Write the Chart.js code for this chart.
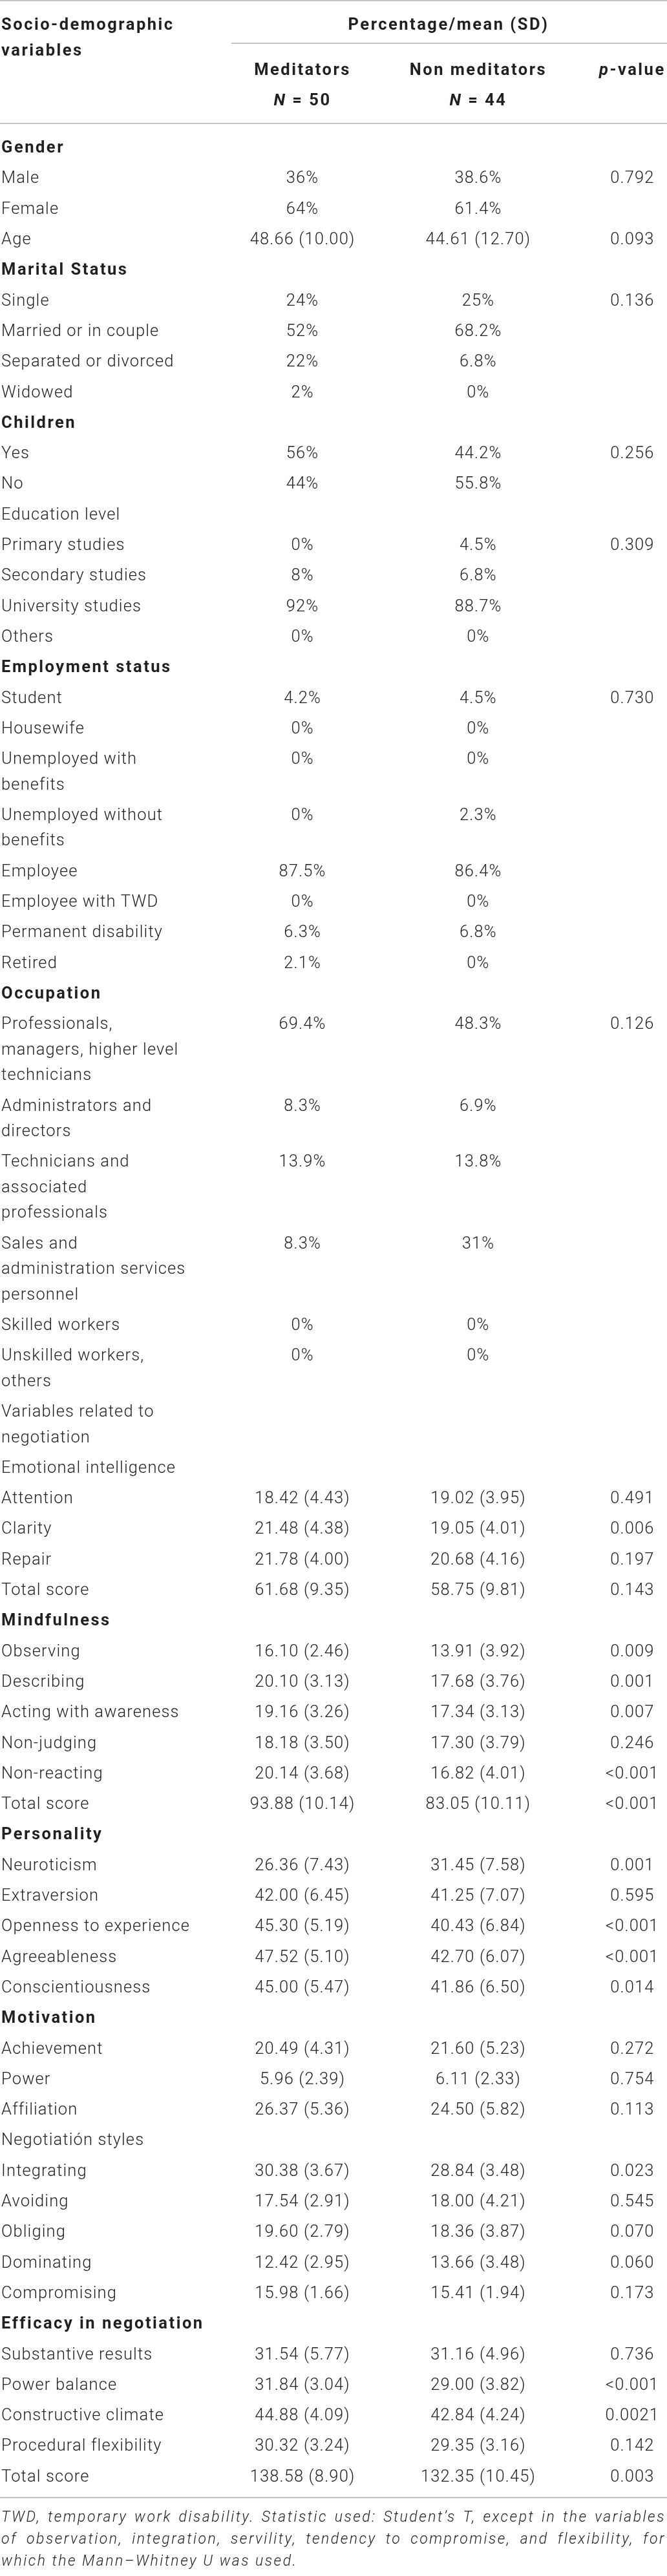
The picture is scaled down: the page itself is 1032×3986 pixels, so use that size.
<!DOCTYPE html>
<html>
<head>
<meta charset="utf-8">
<script src="https://cdn.jsdelivr.net/npm/chart.js@4.4.1/dist/chart.umd.min.js"></script>
<style>
  html, body { margin: 0; padding: 0; background: #fff; }
  canvas { display: block; }
</style>
</head>
<body>
<canvas id="tabela" width="1032" height="3986"></canvas>
<script>
// dados da tabela (uma entrada por linha; arrays = rótulo em várias linhas)
const variables = [
  "Gender", "Male", "Female", "Age",
  "Marital Status", "Single", "Married or in couple", "Separated or divorced", "Widowed",
  "Children", "Yes", "No",
  "Education level", "Primary studies", "Secondary studies", "University studies", "Others",
  "Employment status", "Student", "Housewife", ["Unemployed with", "benefits"], ["Unemployed without", "benefits"],
  "Employee", "Employee with TWD", "Permanent disability", "Retired",
  "Occupation", ["Professionals,", "managers, higher level", "technicians"], ["Administrators and", "directors"],
  ["Technicians and", "associated", "professionals"], ["Sales and", "administration services", "personnel"],
  "Skilled workers", ["Unskilled workers,", "others"],
  ["Variables related to", "negotiation"], "Emotional intelligence", "Attention", "Clarity", "Repair", "Total score",
  "Mindfulness", "Observing", "Describing", "Acting with awareness", "Non-judging", "Non-reacting", "Total score",
  "Personality", "Neuroticism", "Extraversion", "Openness to experience", "Agreeableness", "Conscientiousness",
  "Motivation", "Achievement", "Power", "Affiliation",
  "Negotiatión styles", "Integrating", "Avoiding", "Obliging", "Dominating", "Compromising",
  "Efficacy in negotiation", "Substantive results", "Power balance", "Constructive climate", "Procedural flexibility", "Total score"
];

const meditators = [
  "", "36%", "64%", "48.66 (10.00)",
  "", "24%", "52%", "22%", "2%",
  "", "56%", "44%",
  "", "0%", "8%", "92%", "0%",
  "", "4.2%", "0%", "0%", "0%", "87.5%", "0%", "6.3%", "2.1%",
  "", "69.4%", "8.3%", "13.9%", "8.3%", "0%", "0%",
  "", "", "18.42 (4.43)", "21.48 (4.38)", "21.78 (4.00)", "61.68 (9.35)",
  "", "16.10 (2.46)", "20.10 (3.13)", "19.16 (3.26)", "18.18 (3.50)", "20.14 (3.68)", "93.88 (10.14)",
  "", "26.36 (7.43)", "42.00 (6.45)", "45.30 (5.19)", "47.52 (5.10)", "45.00 (5.47)",
  "", "20.49 (4.31)", "5.96 (2.39)", "26.37 (5.36)",
  "", "30.38 (3.67)", "17.54 (2.91)", "19.60 (2.79)", "12.42 (2.95)", "15.98 (1.66)",
  "", "31.54 (5.77)", "31.84 (3.04)", "44.88 (4.09)", "30.32 (3.24)", "138.58 (8.90)"
];

const nonMeditators = [
  "", "38.6%", "61.4%", "44.61 (12.70)",
  "", "25%", "68.2%", "6.8%", "0%",
  "", "44.2%", "55.8%",
  "", "4.5%", "6.8%", "88.7%", "0%",
  "", "4.5%", "0%", "0%", "2.3%", "86.4%", "0%", "6.8%", "0%",
  "", "48.3%", "6.9%", "13.8%", "31%", "0%", "0%",
  "", "", "19.02 (3.95)", "19.05 (4.01)", "20.68 (4.16)", "58.75 (9.81)",
  "", "13.91 (3.92)", "17.68 (3.76)", "17.34 (3.13)", "17.30 (3.79)", "16.82 (4.01)", "83.05 (10.11)",
  "", "31.45 (7.58)", "41.25 (7.07)", "40.43 (6.84)", "42.70 (6.07)", "41.86 (6.50)",
  "", "21.60 (5.23)", "6.11 (2.33)", "24.50 (5.82)",
  "", "28.84 (3.48)", "18.00 (4.21)", "18.36 (3.87)", "13.66 (3.48)", "15.41 (1.94)",
  "", "31.16 (4.96)", "29.00 (3.82)", "42.84 (4.24)", "29.35 (3.16)", "132.35 (10.45)"
];

const pValues = [
  "", "0.792", "", "0.093",
  "", "0.136", "", "", "",
  "", "0.256", "",
  "", "0.309", "", "", "",
  "", "0.730", "", "", "", "", "", "", "",
  "", "0.126", "", "", "", "", "",
  "", "", "0.491", "0.006", "0.197", "0.143",
  "", "0.009", "0.001", "0.007", "0.246", "<0.001", "<0.001",
  "", "0.001", "0.595", "<0.001", "<0.001", "0.014",
  "", "0.272", "0.754", "0.113",
  "", "0.023", "0.545", "0.070", "0.060", "0.173",
  "", "0.736", "<0.001", "0.0021", "0.142", "0.003"
];

const headingRows = ["Gender", "Marital Status", "Children", "Employment status", "Occupation",
  "Mindfulness", "Personality", "Motivation", "Efficacy in negotiation"];

const stubTitle = ["Socio-demographic", "variables"];
const spanTitle = "Percentage/mean (SD)";
const seriesNames = ["Meditators", "Non meditators"];
const sampleSizes = [50, 44];

const footnote = [
  "TWD, temporary work disability. Statistic used: Student’s T, except in the variables",
  "of observation, integration, servility, tendency to compromise, and flexibility, for",
  "which the Mann–Whitney U was used."
];

// layout
const W = 1032, H = 3986;
const ROW_PX = 47.3;              // passo de uma linha simples
const LINE = 39.5 / ROW_PX;       // linha extra dentro da mesma célula
const FIRST_ROW = 227 / ROW_PX;
const LABEL_X = 0.2;              // x em % da largura
const COL_X = [45.35, 71.7, 94.8];
const SPAN_FROM = 34.7;
const SPAN_TITLE_X = 67.25;
const HEAD = { top: 0.02, title: 0.78, spanRule: 1.416, group: 2.262, n: 3.256, rule: 4.038 };

const TEXT = "#231f20";
const RULE = "#b4b4b4";
const FAMILY = 'Roboto, "Liberation Sans", Arial, sans-serif';
const styles = {
  body: { font: `300 25.5px ${FAMILY}`, size: 25.5, sample: "University studies", target: 217 },
  bold: { font: `700 25.5px ${FAMILY}`, size: 25.5, sample: "Employment status", target: 267 },
  boldItalic: { font: `italic 700 25.5px ${FAMILY}`, size: 25.5 },
  note: { font: `italic 300 23px ${FAMILY}`, size: 23, sample: "which the Mann–Whitney U was used.", target: 476 }
};

// posição vertical de cada linha (em unidades de linha)
const rowPos = [];
let pos = FIRST_ROW;
variables.forEach(v => {
  rowPos.push(pos);
  const n = Array.isArray(v) ? v.length : 1;
  pos += 1 + LINE * (n - 1);
});
const lastRow = rowPos[rowPos.length - 1];
const bottomRule = lastRow + 0.72;

function useStyle(c, st) {
  c.font = st.font;
  c.letterSpacing = (st.spacing || 0) + "px";
}

function calibrate(c) {
  ["body", "bold", "note"].forEach(k => {
    const st = styles[k];
    st.spacing = 0;
    useStyle(c, st);
    const w = c.measureText(st.sample).width;
    st.spacing = Math.max(-1, Math.min(2.5, (st.target - w) / st.sample.length));
  });
  styles.boldItalic.spacing = styles.bold.spacing;
}

function text(c, str, x, y, st, align) {
  useStyle(c, st);
  c.fillStyle = TEXT;
  c.textAlign = align || "left";
  c.textBaseline = "alphabetic";
  c.fillText(str, x, y + st.size * 0.36);
}

// texto com partes em estilos diferentes, centrado em x
function runs(c, parts, x, y) {
  let total = 0;
  parts.forEach(p => { useStyle(c, p[1]); total += c.measureText(p[0]).width; });
  let cx = x - total / 2;
  parts.forEach(p => {
    text(c, p[0], cx, y, p[1], "left");
    useStyle(c, p[1]);
    cx += c.measureText(p[0]).width;
  });
}

function rule(c, x0, x1, y) {
  c.save();
  c.strokeStyle = RULE;
  c.lineWidth = 1.6;
  c.beginPath();
  c.moveTo(x0, y);
  c.lineTo(x1, y);
  c.stroke();
  c.restore();
}

const tablePlugin = {
  id: "tabela",
  beforeDraw(chart) {
    calibrate(chart.ctx);
  },
  afterDatasetsDraw(chart) {
    const c = chart.ctx;
    const xs = chart.scales.x, ys = chart.scales.y;
    const px = v => xs.getPixelForValue(v);
    const py = v => ys.getPixelForValue(v);
    const linePx = py(LINE) - py(0);

    // linhas horizontais
    rule(c, px(0), px(100), py(HEAD.top));
    rule(c, px(SPAN_FROM), px(100), py(HEAD.spanRule));
    rule(c, px(0), px(100), py(HEAD.rule));
    rule(c, px(0), px(100), py(bottomRule));

    // cabeçalho
    stubTitle.forEach((s, i) => text(c, s, px(LABEL_X), py(HEAD.title) + i * linePx, styles.bold));
    text(c, spanTitle, px(SPAN_TITLE_X), py(HEAD.title), styles.bold, "center");
    seriesNames.forEach((s, i) => {
      text(c, s, px(COL_X[i]), py(HEAD.group), styles.bold, "center");
      runs(c, [["N", styles.boldItalic], [" = " + sampleSizes[i], styles.bold]], px(COL_X[i]), py(HEAD.n));
    });
    runs(c, [["p", styles.boldItalic], ["-value", styles.bold]], px(COL_X[2]), py(HEAD.group));

    // células, a partir dos pontos do gráfico
    chart.data.datasets.forEach((ds, d) => {
      const meta = chart.getDatasetMeta(d);
      meta.data.forEach((pt, i) => {
        const raw = ds.data[i];
        const lines = Array.isArray(raw.text) ? raw.text : [raw.text];
        const st = raw.heading ? styles.bold : styles.body;
        lines.forEach((l, k) => text(c, l, pt.x, pt.y + k * linePx, st, d === 0 ? "left" : "center"));
      });
    });

    // nota de rodapé (justificada menos a última linha)
    const left = px(LABEL_X), right = px(99.8);
    footnote.forEach((l, i) => {
      const y = py(bottomRule + 0.62 + i * 0.715);
      if (i === footnote.length - 1) { text(c, l, left, y, styles.note); return; }
      const words = l.split(" ");
      useStyle(c, styles.note);
      const widths = words.map(w => c.measureText(w).width);
      const gap = (right - left - widths.reduce((a, b) => a + b, 0)) / (words.length - 1);
      let x = left;
      words.forEach((w, k) => { text(c, w, x, y, styles.note); x += widths[k] + gap; });
    });
    c.letterSpacing = "0px";
  }
};

function column(values, k) {
  return values
    .map((v, i) => ({ x: COL_X[k], y: rowPos[i], text: v }))
    .filter(p => p.text !== "");
}

const ctx = document.getElementById("tabela").getContext("2d");
new Chart(ctx, {
  type: "scatter",
  data: {
    datasets: [
      { label: "Variables", data: variables.map((v, i) => ({ x: LABEL_X, y: rowPos[i], text: v, heading: headingRows.includes(v) })) },
      { label: seriesNames[0], data: column(meditators, 0) },
      { label: seriesNames[1], data: column(nonMeditators, 1) },
      { label: "p-value", data: column(pValues, 2) }
    ]
  },
  options: {
    responsive: false,
    animation: false,
    devicePixelRatio: 1,
    layout: { padding: 0 },
    elements: { point: { radius: 0, hoverRadius: 0 } },
    scales: {
      x: { type: "linear", display: false, min: 0, max: 100 },
      y: { type: "linear", display: false, reverse: true, min: 0, max: H / ROW_PX }
    },
    plugins: {
      legend: { display: false },
      tooltip: { enabled: false }
    }
  },
  plugins: [tablePlugin]
});
</script>
</body>
</html>
